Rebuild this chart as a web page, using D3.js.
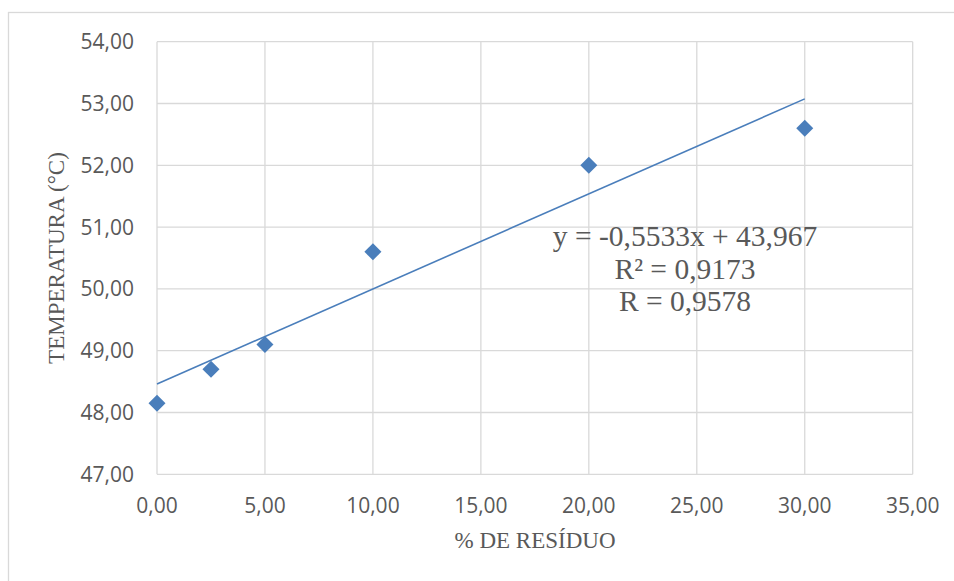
<!DOCTYPE html>
<html>
<head>
<meta charset="utf-8">
<script src="https://cdn.jsdelivr.net/npm/d3@7"></script>
<style>
    body { margin: 0; background: #fff; }
    svg { display: block; }
</style>
</head>
<body>
<div id="chart"></div>
<script>
// data
const residuo = [0, 2.5, 5, 10, 20, 30];
const temperatura = [48.15, 48.7, 49.1, 50.6, 52.0, 52.6];
const xTicks = [0, 5, 10, 15, 20, 25, 30, 35];
const yTicks = [47, 48, 49, 50, 51, 52, 53, 54];
const equationLines = ['y = -0,5533x + 43,967', 'R² = 0,9173', 'R = 0,9578'];

const width = 954;
const height = 581;
const margin = { top: 41.7, right: 41.3, bottom: 106.7, left: 157 };
const blue = '#4a7ebb';
const grey = '#595959';
const fmt = d => d3.format('.2f')(d).replace('.', ',');

const svg = d3.select('#chart')
    .append('svg')
    .attr('width', width)
    .attr('height', height);

// chart area border
svg.append('rect')
    .attr('x', 8.5).attr('y', 12.5)
    .attr('width', width).attr('height', height)
    .attr('fill', 'none')
    .attr('stroke', '#d9d9d9')
    .attr('stroke-width', 1.3);

const x = d3.scaleLinear().domain([0, 35]).range([margin.left, width - margin.right]);
const y = d3.scaleLinear().domain([47, 54]).range([height - margin.bottom, margin.top]);

// gridlines
svg.append('g')
    .selectAll('line')
    .data(xTicks)
    .enter().append('line')
    .attr('x1', d => x(d)).attr('x2', d => x(d))
    .attr('y1', y(47)).attr('y2', y(54))
    .attr('stroke', '#d9d9d9').attr('stroke-width', 1.3);

svg.append('g')
    .selectAll('line')
    .data(yTicks)
    .enter().append('line')
    .attr('x1', x(0)).attr('x2', x(35))
    .attr('y1', d => y(d)).attr('y2', d => y(d))
    .attr('stroke', '#d9d9d9').attr('stroke-width', 1.3);

// tick labels
svg.append('g')
    .selectAll('text')
    .data(yTicks)
    .enter().append('text')
    .attr('x', x(0) - 23)
    .attr('y', d => y(d))
    .attr('dy', '0.36em')
    .attr('text-anchor', 'end')
    .attr('font-family', 'Open Sans, sans-serif')
    .attr('font-size', 21)
    .attr('fill', grey)
    .text(fmt);

svg.append('g')
    .selectAll('text')
    .data(xTicks)
    .enter().append('text')
    .attr('x', d => x(d))
    .attr('y', 513)
    .attr('text-anchor', 'middle')
    .attr('font-family', 'Open Sans, sans-serif')
    .attr('font-size', 21)
    .attr('fill', grey)
    .text(fmt);

// axis titles
svg.append('text')
    .attr('x', 535).attr('y', 548)
    .attr('text-anchor', 'middle')
    .attr('font-family', 'Liberation Serif, serif')
    .attr('font-size', 23)
    .attr('fill', grey)
    .text('% DE RESÍDUO');

svg.append('text')
    .attr('transform', 'translate(64,258) rotate(-90)')
    .attr('text-anchor', 'middle')
    .attr('font-family', 'Liberation Serif, serif')
    .attr('font-size', 23)
    .attr('fill', grey)
    .text('TEMPERATURA (°C)');

// linear trendline (least squares on the points)
const mx = d3.mean(residuo);
const my = d3.mean(temperatura);
const slope = d3.sum(residuo, (d, i) => (d - mx) * (temperatura[i] - my)) /
    d3.sum(residuo, d => (d - mx) * (d - mx));
const intercept = my - slope * mx;
const xr = d3.extent(residuo);

svg.append('line')
    .attr('x1', x(xr[0])).attr('y1', y(intercept + slope * xr[0]))
    .attr('x2', x(xr[1])).attr('y2', y(intercept + slope * xr[1]))
    .attr('stroke', blue)
    .attr('stroke-width', 1.6);

// markers
svg.append('g')
    .selectAll('path')
    .data(residuo)
    .enter().append('path')
    .attr('d', d3.symbol().type(d3.symbolSquare).size(145))
    .attr('transform', (d, i) => `translate(${x(d)},${y(temperatura[i])}) rotate(45)`)
    .attr('fill', blue);

// equation label
svg.append('g')
    .selectAll('text')
    .data(equationLines)
    .enter().append('text')
    .attr('x', 685)
    .attr('y', (d, i) => 246 + i * 32.5)
    .attr('text-anchor', 'middle')
    .attr('font-family', 'Liberation Serif, serif')
    .attr('font-size', 29.5)
    .attr('fill', grey)
    .text(d => d);
</script>
</body>
</html>
